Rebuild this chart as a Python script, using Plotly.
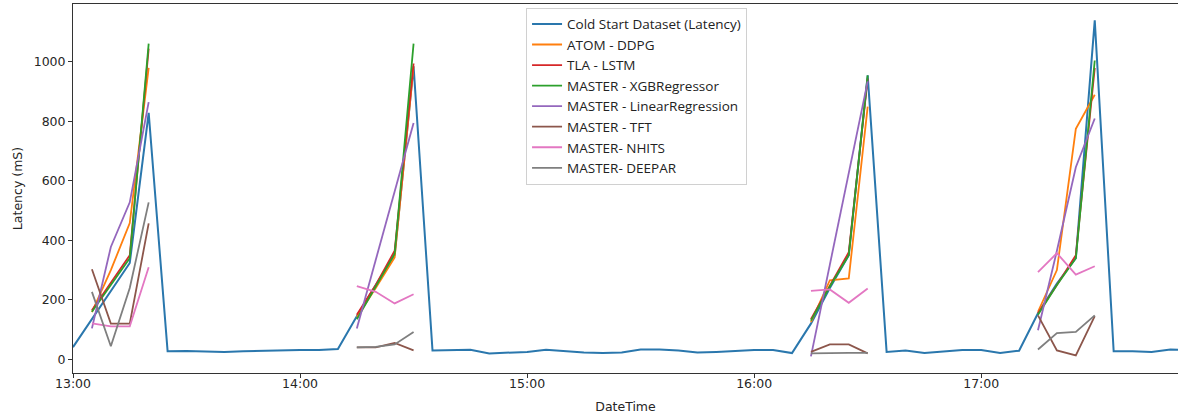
import plotly.graph_objects as go
import pandas as pd

# ---- data ----
blue_start = "2024-01-01 13:00"
blue_values = [
    41, 136, 230, 324, 829, 27, 28, 27, 25, 27, 29, 30, 31, 31, 35,      # 13:00-14:10
    145, 250, 350, 985, 30, 30, 32, 20, 23, 25, 32, 27, 23, 21, 23,      # 14:15-15:25
    33, 33, 30, 23, 25, 28, 31, 31, 21,                                  # 15:30-16:10
    120, 240, 350, 955, 25, 30, 21, 25, 31, 31, 21, 29,                  # 16:15-17:10
    155, 255, 340, 1140, 27, 27, 25, 33, 30,                             # 17:15-17:55
]

spike_starts = ["2024-01-01 13:05", "2024-01-01 14:15", "2024-01-01 16:15", "2024-01-01 17:15"]

atom_ddpg = [[159, 300, 458, 980], [142, 240, 343, 985], [125, 266, 272, 850], [160, 300, 775, 890]]
tla_lstm = [[165, 256, 350, 1045], [150, 250, 365, 995], [135, 250, 360, 945], [155, 250, 350, 980]]
xgb = [[160, 250, 340, 1062], [135, 245, 355, 1062], [130, 245, 350, 955], [150, 250, 340, 1005]]
linreg = [[104, 378, 528, 865], [104, 334, 565, 795], [10, 318, 627, 935], [98, 365, 646, 810]]
tft = [[303, 120, 120, 457], [40, 40, 55, 30], [25, 50, 50, 20], [148, 30, 13, 145]]
nhits = [[121, 111, 111, 310], [246, 227, 188, 219], [230, 235, 190, 238], [293, 357, 285, 313]]
deepar = [[227, 44, 240, 528], [40, 42, 50, 92], [20, 22, 22, 22], [33, 88, 92, 148]]

names = ["Cold Start Dataset (Latency)", "ATOM - DDPG", "TLA - LSTM", "MASTER - XGBRegressor",
         "MASTER - LinearRegression", "MASTER - TFT", "MASTER- NHITS", "MASTER- DEEPAR"]
colors = ["#2a77ad", "#ff7f0e", "#d62728", "#2ca02c", "#9467bd", "#8c564b", "#e377c2", "#7f7f7f"]

# ---- build ----
blue_x = pd.date_range(blue_start, periods=len(blue_values), freq="5min")


def segments(vals):
    xs, ys = [], []
    for start, seg in zip(spike_starts, vals):
        t = pd.date_range(start, periods=len(seg), freq="5min")
        xs.extend(list(t) + [None])
        ys.extend(list(seg) + [None])
    return xs, ys


fig = go.Figure()
fig.add_trace(go.Scatter(x=blue_x, y=blue_values, mode="lines", name=names[0],
                         line=dict(color=colors[0], width=2)))
for name, col, vals in zip(names[1:], colors[1:], [atom_ddpg, tla_lstm, xgb, linreg, tft, nhits, deepar]):
    xs, ys = segments(vals)
    fig.add_trace(go.Scatter(x=xs, y=ys, mode="lines", name=name, connectgaps=False,
                             line=dict(color=col, width=1.8)))

tick_font = dict(family="DejaVu Sans", size=12.5, color="#262626")
fig.update_layout(
    width=1178, height=417,
    margin=dict(l=73, r=0, t=4, b=44),
    paper_bgcolor="white", plot_bgcolor="white",
    showlegend=True,
    legend=dict(x=0.41, y=0.99, xanchor="left", yanchor="top",
                bgcolor="white", bordercolor="#d0d0d0", borderwidth=1,
                font=dict(family="Open Sans", size=13.5, color="#222")),
    xaxis=dict(type="date", range=["2024-01-01 13:00", "2024-01-01 17:52"],
               tickformat="%H:%M", dtick=3600000, tick0="2024-01-01 13:00",
               showgrid=False, zeroline=False, showline=True, linecolor="#333", linewidth=1,
               mirror=True, ticks="outside", ticklen=4, tickcolor="#333", tickfont=tick_font,
               ticklabelstandoff=-5, automargin=False,
               title=dict(text="DateTime", font=tick_font, standoff=12)),
    yaxis=dict(range=[-46, 1195], tickvals=[0, 200, 400, 600, 800, 1000],
               showgrid=False, zeroline=False, showline=True, linecolor="#333", linewidth=1,
               ticks="outside", ticklen=4, tickcolor="#333", tickfont=tick_font, automargin=False,
               title=dict(text="Latency (mS)", font=tick_font, standoff=8)),
)

fig.write_html("out.html", config={"displayModeBar": False},
               post_script="document.body.style.margin='0';")
